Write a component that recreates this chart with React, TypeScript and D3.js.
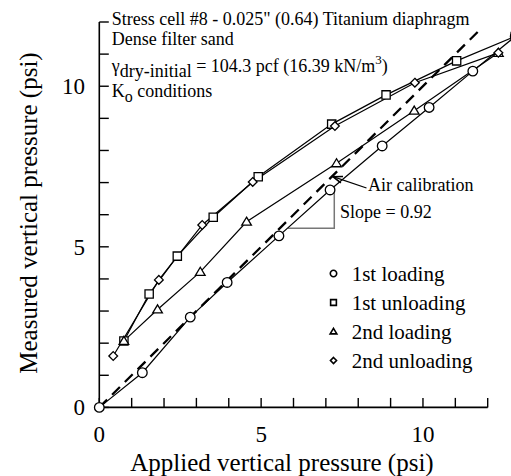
import React from "react";
import * as d3 from "d3";

const load1X = [0, 1.33, 2.81, 3.95, 5.55, 7.13, 8.74, 10.19, 11.54, 12.85];
const load1Y = [0, 1.08, 2.81, 3.89, 5.34, 6.77, 8.14, 9.34, 10.47, 11.55];
const unload1X = [12.85, 11.04, 8.86, 7.18, 4.91, 3.52, 2.41, 1.54, 0.76];
const unload1Y = [11.55, 10.79, 9.73, 8.82, 7.18, 5.92, 4.71, 3.53, 2.07];
const load2X = [0.76, 1.8, 3.12, 4.55, 7.33, 9.73, 12.33];
const load2Y = [2.07, 3.05, 4.22, 5.78, 7.6, 9.24, 11.04];
const unload2X = [12.33, 9.75, 7.28, 4.74, 3.18, 1.84, 0.43];
const unload2Y = [11.04, 10.11, 8.76, 7.02, 5.68, 3.97, 1.6];

const airX = [0, 11.7];
const airY = [0, 11.7];

const seriesNames = ["1st loading", "1st unloading", "2nd loading", "2nd unloading"];
const seriesMarkers = ["circle", "square", "triangle", "diamond"];

const xTicks = [0, 1, 2, 3, 4, 5, 6, 7, 8, 9, 10, 11, 12];
const yTicks = [0, 1, 2, 3, 4, 5, 6, 7, 8, 9, 10, 11, 12];
const labeledTicks = [0, 5, 10];

const FONT = "Liberation Serif";

function markerPath(kind: string, cx: number, cy: number, s: number): string {
  if (kind === "circle") {
    const r = s;
    return `M${cx - r},${cy}a${r},${r} 0 1,0 ${2 * r},0a${r},${r} 0 1,0 ${-2 * r},0Z`;
  }
  if (kind === "square") {
    const h = s * 0.9;
    return `M${cx - h},${cy - h}H${cx + h}V${cy + h}H${cx - h}Z`;
  }
  if (kind === "triangle") {
    const w = s * 1.05;
    return `M${cx},${cy - s}L${cx + w},${cy + s * 0.75}L${cx - w},${cy + s * 0.75}Z`;
  }
  const d = s * 0.95;
  return `M${cx},${cy - d}L${cx + d},${cy}L${cx},${cy + d}L${cx - d},${cy}Z`;
}

function T(props: any) {
  const { size, children, ...rest } = props;
  return (
    <text {...rest} style={{ fontFamily: FONT, fontSize: size + "px" }}>
      {children}
    </text>
  );
}

export default function App() {
  const x = d3.scaleLinear().domain([0, 12]).range([99.3, 487.7]);
  const y = d3.scaleLinear().domain([0, 12]).range([407.4, 22]);

  const series = [
    { xs: load1X, ys: load1Y },
    { xs: unload1X, ys: unload1Y },
    { xs: load2X, ys: load2Y },
    { xs: unload2X, ys: unload2Y },
  ];

  const line = d3
    .line<[number, number]>()
    .x((d) => x(d[0]))
    .y((d) => y(d[1]));

  const airPts: [number, number][] = airX.map((v, i) => [v, airY[i]]);

  // slope triangle (data coordinates)
  const triLeft = 5.83;
  const triRight = 7.26;
  const triBottom = 5.58;
  const triTop = 6.72;

  // arrow
  const arrowTip: [number, number] = [333, 176.7];
  const arrowTail: [number, number] = [366.5, 188];
  const ang = Math.atan2(arrowTail[1] - arrowTip[1], arrowTail[0] - arrowTip[0]);
  const hl = 10;
  const ha = 0.34;
  const h1 = [arrowTip[0] + hl * Math.cos(ang + ha), arrowTip[1] + hl * Math.sin(ang + ha)];
  const h2 = [arrowTip[0] + hl * Math.cos(ang - ha), arrowTip[1] + hl * Math.sin(ang - ha)];

  const legendX = 333.5;
  const legendY0 = 273.5;
  const legendDy = 29;

  return (
    <svg width={511} height={476} style={{ position: "absolute", left: 0, top: 0, background: "#fff" }}>
      <rect x={0} y={0} width={511} height={476} fill="#fff" />
      {/* axes */}
      <line x1={x(0)} x2={x(12)} y1={y(0)} y2={y(0)} stroke="#000" strokeWidth={1.6} />
      <line x1={x(0)} x2={x(0)} y1={y(0)} y2={y(12)} stroke="#000" strokeWidth={1.6} />
      {xTicks.map((t) => (
        <line key={"xt" + t} x1={x(t)} x2={x(t)} y1={y(0)} y2={y(0) - 9.5} stroke="#000" strokeWidth={1.4} />
      ))}
      {yTicks.map((t) => (
        <line key={"yt" + t} x1={x(0)} x2={x(0) + 9.5} y1={y(t)} y2={y(t)} stroke="#000" strokeWidth={1.4} />
      ))}
      {labeledTicks.map((t) => (
        <T key={"xl" + t} x={x(t)} y={441.7} size={23} textAnchor="middle">
          {t}
        </T>
      ))}
      {labeledTicks.map((t) => (
        <T key={"yl" + t} x={85} y={y(t) + 7.7} size={23} textAnchor="end">
          {t}
        </T>
      ))}
      <T x={282} y={470.7} size={25} textAnchor="middle">
        Applied vertical pressure (psi)
      </T>
      <T transform="translate(36.7,213) rotate(-90)" size={25} textAnchor="middle">
        Measured vertical pressure (psi)
      </T>

      {/* air calibration dashed line */}
      <path d={line(airPts) || ""} fill="none" stroke="#000" strokeWidth={2.3} strokeDasharray="11,7" />

      {/* slope triangle */}
      <path
        d={`M${x(triLeft)},${y(triBottom)}H${x(triRight)}V${y(triTop)}`}
        fill="none"
        stroke="#777"
        strokeWidth={1.5}
      />

      {/* series lines */}
      {series.map((s, i) => {
        const pts: [number, number][] = s.xs.map((v, j) => [v, s.ys[j]]);
        return <path key={"l" + i} d={line(pts) || ""} fill="none" stroke="#000" strokeWidth={1.2} />;
      })}
      {/* markers */}
      {series.map((s, i) =>
        s.xs.map((v, j) => (
          <path
            key={"m" + i + "-" + j}
            d={markerPath(seriesMarkers[i], x(v), y(s.ys[j]), i === 0 ? 4.8 : 4.6)}
            fill="#fff"
            stroke="#000"
            strokeWidth={1.3}
          />
        ))
      )}

      {/* annotations */}
      <T x={111.7} y={25} size={18}>Stress cell #8 - 0.025" (0.64) Titanium diaphragm</T>
      <T x={111.7} y={44.5} size={18}>Dense filter sand</T>
      <T x={111.7} y={71.7} size={18}>
        <tspan>γ</tspan>
        <tspan dy={5}>dry-initial</tspan>
        <tspan dy={-5}> = 104.3 pcf (16.39 kN/m</tspan>
        <tspan dy={-8} style={{ fontSize: "13px" }}>3</tspan>
        <tspan dy={8}>)</tspan>
      </T>
      <T x={111.7} y={96.7} size={18}>
        <tspan>K</tspan>
        <tspan dy={5} style={{ fontSize: "16px" }}>o</tspan>
        <tspan dy={-5}> conditions</tspan>
      </T>
      <T x={368} y={190.5} size={18}>Air calibration</T>
      <T x={340} y={218.3} size={18}>Slope = 0.92</T>
      <line x1={arrowTail[0]} y1={arrowTail[1]} x2={arrowTip[0]} y2={arrowTip[1]} stroke="#000" strokeWidth={1.3} />
      <path d={`M${h1[0]},${h1[1]}L${arrowTip[0]},${arrowTip[1]}L${h2[0]},${h2[1]}`} fill="none" stroke="#000" strokeWidth={1.6} />

      {/* legend */}
      {seriesNames.map((n, i) => (
        <g key={"lg" + i}>
          <path
            d={markerPath(seriesMarkers[i], legendX, legendY0 + i * legendDy, 3.2)}
            fill="#fff"
            stroke="#000"
            strokeWidth={1.6}
          />
          <T x={351.7} y={legendY0 + i * legendDy + 7.3} size={21}>
            {n}
          </T>
        </g>
      ))}
    </svg>
  );
}
